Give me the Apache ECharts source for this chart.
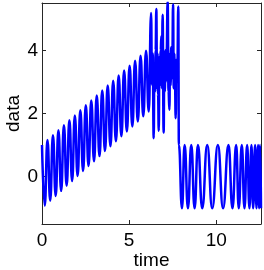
<!DOCTYPE html>
<html><head><meta charset="utf-8">
<script src="https://cdn.jsdelivr.net/npm/echarts@6/dist/echarts.min.js"></script>
<style>html,body{margin:0;padding:0;background:#fff}#c{width:264px;height:270px}</style>
</head><body><div id="c"></div>
<script>
// tick labels
const xTickValues = [0, 5, 10];
const yTickValues = [0, 2, 4];
const xName = 'time';
const yName = 'data';

// segment 1: rising oscillation (extremes)
const seg1Time = [0.000,0.157,0.314,0.471,0.628,0.785,0.942,1.100,1.257,1.414,1.571,1.728,1.885,2.042,2.199,2.356,2.513,2.670,2.827,2.985,3.142,3.299,3.456,3.613,3.770,3.927,4.084,4.241,4.398,4.555,4.712,4.869,5.027,5.184,5.341,5.498,5.655,5.812,5.969,6.126];
const seg1Data = [1.00,-0.92,1.16,-0.76,1.31,-0.61,1.47,-0.45,1.63,-0.29,1.79,-0.14,1.94,0.02,2.10,0.18,2.26,0.34,2.41,0.49,2.57,0.65,2.73,0.81,2.89,0.96,3.04,1.12,3.20,1.28,3.36,1.43,3.51,1.59,3.67,1.75,3.83,1.91,3.99,2.06];

// segment 2: irregular burst
const seg2Time = [6.26,6.31,6.35,6.41,6.45,6.49,6.52,6.56,6.60,6.63,6.66,6.70,6.74,6.77,6.81,6.85,6.88,6.92,6.98,7.02,7.05,7.08,7.11,7.15,7.21,7.26,7.31,7.35,7.38,7.41,7.44,7.48,7.52,7.56,7.60,7.63,7.67,7.71,7.74,7.77,7.82];
const seg2Data = [5.18,2.9,3.9,1.22,3.6,2.7,4.0,5.31,2.8,3.9,2.6,1.45,3.8,2.9,4.0,4.45,2.8,5.13,1.40,3.8,2.7,4.0,3.0,3.9,5.55,2.7,2.12,3.9,2.9,4.1,3.1,3.8,5.45,2.8,3.9,3.1,1.85,3.7,3.0,3.6,5.39];

// segment 3: unit oscillation with varying frequency
const seg3Time = [7.854,8.031,8.184,8.374,8.565,8.756,8.947,9.194,9.481,9.767,10.092,10.39,10.702,10.93,11.141,11.29,11.465,11.618,11.771,11.904,12.019,12.114,12.229,12.305,12.401,12.458,12.515,12.566];
const seg3Data = [1,-1,1,-1,1,-1,1,-1,1,-1,1,-1,1,-1,1,-1,1,-1,1,-1,1,-1,1,-1,1,-1,1,-1];

const timeValues = seg1Time.concat(seg2Time, seg3Time);
const dataValues = seg1Data.concat(seg2Data, seg3Data);
const points = timeValues.map((t, i) => [t, dataValues[i]]);

const font = '"Liberation Sans", Arial, Helvetica, sans-serif';
const axisColor = '#262626';
const xMin = 0, xMax = 12.566, yMin = -1.5, yMax = 5.5;
const fs = 19;

function xAxisCfg(pos, main) {
  return {
    type: 'value', position: pos, min: xMin, max: xMax,
    axisLine: {show: true, onZero: false, lineStyle: {color: axisColor, width: 1}},
    axisTick: {show: true, inside: true, length: 4, customValues: xTickValues, lineStyle: {color: axisColor}},
    axisLabel: {show: main, customValues: xTickValues, color: '#000', fontSize: fs, fontFamily: font, margin: 7},
    splitLine: {show: false},
    name: main ? xName : '', nameLocation: 'middle', nameGap: 27, nameMoveOverlap: false,
    nameTextStyle: {color: '#000', fontSize: fs, fontFamily: font}
  };
}
function yAxisCfg(pos, main) {
  return {
    type: 'value', position: pos, min: yMin, max: yMax,
    axisLine: {show: true, onZero: false, lineStyle: {color: axisColor, width: 1}},
    axisTick: {show: true, inside: true, length: 4, customValues: yTickValues, lineStyle: {color: axisColor}},
    axisLabel: {show: main, customValues: yTickValues, color: '#000', fontSize: fs, fontFamily: font, margin: 4},
    splitLine: {show: false},
    name: main ? yName : '', nameLocation: 'middle', nameGap: 19, nameMoveOverlap: false,
    nameTextStyle: {color: '#000', fontSize: fs, fontFamily: font}
  };
}

const chart = echarts.init(document.getElementById('c'), null, {renderer: 'canvas'});
chart.setOption({
  animation: false,
  grid: {left: 42, right: 3, top: 3, bottom: 46, containLabel: false, outerBoundsMode: 'none'},
  xAxis: [xAxisCfg('bottom', true), xAxisCfg('top', false)],
  yAxis: [yAxisCfg('left', true), yAxisCfg('right', false)],
  series: [{
    type: 'line', data: points, xAxisIndex: 0, yAxisIndex: 0,
    symbol: 'none', showSymbol: false, smooth: true, smoothMonotone: 'x', clip: true,
    lineStyle: {color: '#0000ff', width: 2.5}
  }]
});
</script>
</body></html>
